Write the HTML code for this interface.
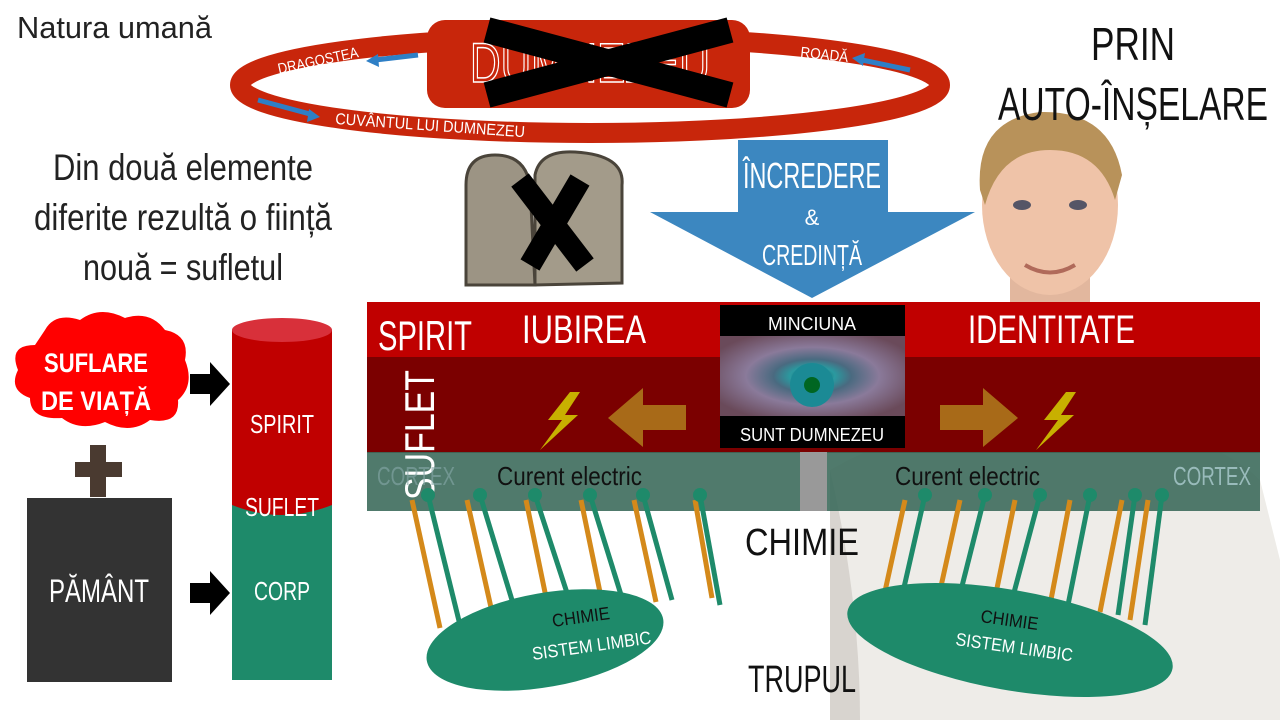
<!DOCTYPE html>
<html><head><meta charset="utf-8"><style>
html,body{margin:0;padding:0;background:#fff;width:1280px;height:720px;overflow:hidden}
svg text{font-family:"Liberation Sans Narrow","Liberation Sans",sans-serif}
</style></head><body>
<svg width="1280" height="720" viewBox="0 0 1280 720" xmlns="http://www.w3.org/2000/svg">
<defs>
<radialGradient id="eye" cx="50%" cy="50%" r="60%"><stop offset="0" stop-color="#0b3b40"/><stop offset="0.2" stop-color="#2a9aa0"/><stop offset="0.35" stop-color="#4a6a80"/><stop offset="0.6" stop-color="#8a7a9a"/><stop offset="1" stop-color="#6a4a5a"/></radialGradient>
</defs>
<path d="M830 470 Q900 430 980 420 L1120 420 Q1220 440 1260 480 L1280 560 L1280 720 L830 720 Z" fill="#eeece8"/>
<path d="M830 470 Q860 600 860 720 L830 720 Z" fill="#d8d4cf"/>
<rect x="1010" y="250" width="80" height="120" fill="#e2b79e"/>
<ellipse cx="1050" cy="205" rx="68" ry="90" fill="#efc3a8"/>
<path d="M980 190 Q975 120 1040 112 Q1110 110 1122 175 L1115 200 Q1100 150 1050 150 Q1000 150 985 205 Z" fill="#b8925a"/>
<ellipse cx="1022" cy="205" rx="9" ry="5" fill="#556"/><ellipse cx="1078" cy="205" rx="9" ry="5" fill="#556"/>
<path d="M1025 265 Q1050 280 1075 265" stroke="#b06a5a" stroke-width="4" fill="none"/>

<text x="17" y="38" font-size="31" fill="#222" textLength="195" lengthAdjust="spacingAndGlyphs">Natura umană</text>
<ellipse cx="590" cy="85" rx="350" ry="48" fill="none" stroke="#c8260b" stroke-width="20"/>
<rect x="427" y="20" width="323" height="88" rx="18" fill="#c8260b"/>
<text x="590" y="82" font-size="56" fill="none" stroke="#fff" stroke-width="1.5" text-anchor="middle" textLength="240" lengthAdjust="spacingAndGlyphs">DUMNEZEU</text>
<path d="M487 30 L730 95 M487 95 L730 30" stroke="#000" stroke-width="26"/>
<text x="279" y="74" font-size="15" fill="#fff" transform="rotate(-12 279 74)" textLength="82" lengthAdjust="spacingAndGlyphs">DRAGOSTEA</text>
<text x="800" y="57" font-size="15" fill="#fff" transform="rotate(6 800 57)" textLength="48" lengthAdjust="spacingAndGlyphs">ROADĂ</text>
<text x="335" y="124" font-size="16" fill="#fff" transform="rotate(4 335 124)" textLength="190" lengthAdjust="spacingAndGlyphs">CUVÂNTUL LUI DUMNEZEU</text>
<path d="M418 55 L375 60" stroke="#2e7fc6" stroke-width="5"/><path d="M366 61 l12 -7 l1 13z" fill="#2e7fc6"/>
<path d="M910 70 L862 60" stroke="#2e7fc6" stroke-width="5"/><path d="M852 58 l13 -5 l-2 13z" fill="#2e7fc6"/>
<path d="M258 100 L310 114" stroke="#2e7fc6" stroke-width="5"/><path d="M320 117 l-13 5 l2 -13z" fill="#2e7fc6"/>
<path d="M738 140 L888 140 L888 212 L975 212 L812 298 L650 212 L738 212 Z" fill="#3c87c0"/>
<text x="812" y="188" font-size="36" fill="#fff" text-anchor="middle" textLength="138" lengthAdjust="spacingAndGlyphs">ÎNCREDERE</text>
<text x="812" y="225" font-size="22" fill="#fff" text-anchor="middle">&amp;</text>
<text x="812" y="265" font-size="29" fill="#fff" text-anchor="middle" textLength="100" lengthAdjust="spacingAndGlyphs">CREDINȚĂ</text>
<text x="1133" y="60" font-size="46" fill="#111" text-anchor="middle" textLength="84" lengthAdjust="spacingAndGlyphs">PRIN</text>
<text x="1133" y="120" font-size="46" fill="#111" text-anchor="middle" textLength="270" lengthAdjust="spacingAndGlyphs">AUTO-ÎNȘELARE</text>
<g font-size="37" fill="#222" text-anchor="middle">
<text x="183" y="180" textLength="260" lengthAdjust="spacingAndGlyphs">Din două elemente</text>
<text x="183" y="230" textLength="298" lengthAdjust="spacingAndGlyphs">diferite rezultă o ființă</text>
<text x="183" y="280" textLength="200" lengthAdjust="spacingAndGlyphs">nouă = sufletul</text>
</g>
<path d="M466 285 L466 185 Q466 155 495 155 Q525 155 530 185 L535 285 Z" fill="#9c9484" stroke="#4a443a" stroke-width="3"/>
<path d="M535 285 L535 175 Q540 150 575 152 Q625 155 622 185 L622 283 Z" fill="#a39b8a" stroke="#4a443a" stroke-width="3"/>
<path d="M520 180 L585 265 M580 180 L530 265" stroke="#000" stroke-width="22"/>
<rect x="367" y="302" width="893" height="56" fill="#c00000"/>
<rect x="367" y="357" width="893" height="96" fill="#7b0000"/>
<rect x="367" y="452" width="893" height="59" fill="#3d6b5c" opacity="0.9"/>
<rect x="800" y="452" width="27" height="59" fill="#999"/>
<text x="378" y="350" font-size="42" fill="#fff" textLength="94" lengthAdjust="spacingAndGlyphs">SPIRIT</text>
<text x="522" y="343" font-size="40" fill="#fff" textLength="124" lengthAdjust="spacingAndGlyphs">IUBIREA</text>
<text x="968" y="343" font-size="40" fill="#fff" textLength="167" lengthAdjust="spacingAndGlyphs">IDENTITATE</text>
<text x="0" y="0" font-size="42" fill="#fff" transform="translate(434 500) rotate(-90)" textLength="130" lengthAdjust="spacingAndGlyphs">SUFLET</text>
<text x="377" y="485" font-size="26" fill="#8aa" opacity="0.6" textLength="78" lengthAdjust="spacingAndGlyphs">CORTEX</text>
<text x="1173" y="485" font-size="26" fill="#9bb" textLength="78" lengthAdjust="spacingAndGlyphs">CORTEX</text>
<text x="497" y="485" font-size="26" fill="#111" textLength="145" lengthAdjust="spacingAndGlyphs">Curent electric</text>
<text x="895" y="485" font-size="26" fill="#111" textLength="145" lengthAdjust="spacingAndGlyphs">Curent electric</text>
<rect x="720" y="305" width="185" height="143" fill="#000"/>
<rect x="720" y="336" width="185" height="80" fill="url(#eye)"/>
<circle cx="812" cy="385" r="22" fill="#1b8a95"/><circle cx="812" cy="385" r="8" fill="#062"/>
<text x="812" y="330" font-size="18" fill="#fff" text-anchor="middle" textLength="88" lengthAdjust="spacingAndGlyphs">MINCIUNA</text>
<text x="812" y="441" font-size="18" fill="#fff" text-anchor="middle" textLength="144" lengthAdjust="spacingAndGlyphs">SUNT DUMNEZEU</text>
<path d="M686 405 L643 405 L643 388 L608 418 L643 447 L643 430 L686 430 Z" fill="#a86a18"/>
<path d="M940 405 L983 405 L983 388 L1018 418 L983 447 L983 430 L940 430 Z" fill="#a86a18"/>
<path d="M570 392 L548 420 L562 420 L540 450 L578 415 L565 415 L580 392 Z" fill="#c8b000"/>
<path d="M1066 392 L1044 420 L1058 420 L1036 450 L1074 415 L1061 415 L1076 392 Z" fill="#c8b000"/>
<g stroke-width="5" fill="none">
<g stroke="#d4891a">
<path d="M440 628 L412 500"/><path d="M492 612 L467 500"/><path d="M547 602 L526 500"/><path d="M601 597 L581 500"/><path d="M656 602 L634 500"/><path d="M712 598 L695 500"/>
<path d="M882 605 L905 500"/><path d="M938 600 L960 500"/><path d="M995 598 L1015 500"/><path d="M1050 605 L1070 500"/><path d="M1100 612 L1122 500"/><path d="M1130 620 L1148 500"/>
</g>
<g stroke="#1e8a6a">
<path d="M460 625 L428 495"/><path d="M515 610 L480 495"/><path d="M570 602 L535 495"/><path d="M622 598 L590 495"/><path d="M672 600 L643 495"/><path d="M720 605 L700 495"/>
<path d="M900 605 L925 495"/><path d="M958 602 L985 495"/><path d="M1012 600 L1040 495"/><path d="M1068 605 L1090 495"/><path d="M1118 615 L1135 495"/><path d="M1145 625 L1162 495"/>
</g>
</g>
<g fill="#1e8a6a">
<circle cx="428" cy="495" r="7"/><circle cx="480" cy="495" r="7"/><circle cx="535" cy="495" r="7"/><circle cx="590" cy="495" r="7"/><circle cx="643" cy="495" r="7"/><circle cx="700" cy="495" r="7"/>
<circle cx="925" cy="495" r="7"/><circle cx="985" cy="495" r="7"/><circle cx="1040" cy="495" r="7"/><circle cx="1090" cy="495" r="7"/><circle cx="1135" cy="495" r="7"/><circle cx="1162" cy="495" r="7"/>
</g>
<ellipse cx="545" cy="640" rx="120" ry="47" fill="#1e8a6a" transform="rotate(-10 545 640)"/>
<ellipse cx="1010" cy="640" rx="165" ry="50" fill="#1e8a6a" transform="rotate(10 1010 640)"/>
<text x="553" y="627" font-size="18" fill="#111" transform="rotate(-8 553 627)" textLength="58" lengthAdjust="spacingAndGlyphs">CHIMIE</text>
<text x="533" y="660" font-size="18" fill="#fff" transform="rotate(-8 533 660)" textLength="120" lengthAdjust="spacingAndGlyphs">SISTEM LIMBIC</text>
<text x="980" y="622" font-size="18" fill="#111" transform="rotate(8 980 622)" textLength="58" lengthAdjust="spacingAndGlyphs">CHIMIE</text>
<text x="955" y="645" font-size="18" fill="#fff" transform="rotate(8 955 645)" textLength="118" lengthAdjust="spacingAndGlyphs">SISTEM LIMBIC</text>
<text x="745" y="555" font-size="38" fill="#111" textLength="114" lengthAdjust="spacingAndGlyphs">CHIMIE</text>
<text x="748" y="692" font-size="38" fill="#111" textLength="108" lengthAdjust="spacingAndGlyphs">TRUPUL</text>
<path d="M45 330 Q55 312 80 320 Q100 305 125 318 Q150 310 165 330 Q190 335 185 360 Q195 385 178 400 Q180 425 150 420 Q130 435 105 422 Q80 432 62 418 Q30 420 30 398 Q8 390 18 370 Q8 345 35 345 Z" fill="#ff0000"/>
<text x="96" y="372" font-size="27" font-weight="bold" fill="#fff" text-anchor="middle" textLength="104" lengthAdjust="spacingAndGlyphs">SUFLARE</text>
<text x="96" y="410" font-size="27" font-weight="bold" fill="#fff" text-anchor="middle" textLength="110" lengthAdjust="spacingAndGlyphs">DE VIAȚĂ</text>
<rect x="90" y="445" width="16" height="52" fill="#4a3a30"/><rect x="75" y="462" width="47" height="15" fill="#4a3a30"/>
<rect x="27" y="498" width="145" height="184" fill="#333"/>
<text x="99" y="602" font-size="32" fill="#fff" text-anchor="middle" textLength="100" lengthAdjust="spacingAndGlyphs">PĂMÂNT</text>
<path d="M190 374 L210 374 L210 362 L230 384 L210 406 L210 394 L190 394 Z" fill="#000"/>
<path d="M190 583 L210 583 L210 571 L230 593 L210 615 L210 603 L190 603 Z" fill="#000"/>
<rect x="232" y="330" width="100" height="350" fill="#1e8a6a"/>
<path d="M232 330 L332 330 L332 505 Q282 525 232 505 Z" fill="#c00000"/>
<ellipse cx="282" cy="330" rx="50" ry="12" fill="#d8303a"/>
<text x="282" y="433" font-size="26" fill="#fff" text-anchor="middle" textLength="64" lengthAdjust="spacingAndGlyphs">SPIRIT</text>
<text x="282" y="516" font-size="26" fill="#fff" text-anchor="middle" textLength="74" lengthAdjust="spacingAndGlyphs">SUFLET</text>
<text x="282" y="600" font-size="26" fill="#fff" text-anchor="middle" textLength="56" lengthAdjust="spacingAndGlyphs">CORP</text>
</svg>
</body></html>
